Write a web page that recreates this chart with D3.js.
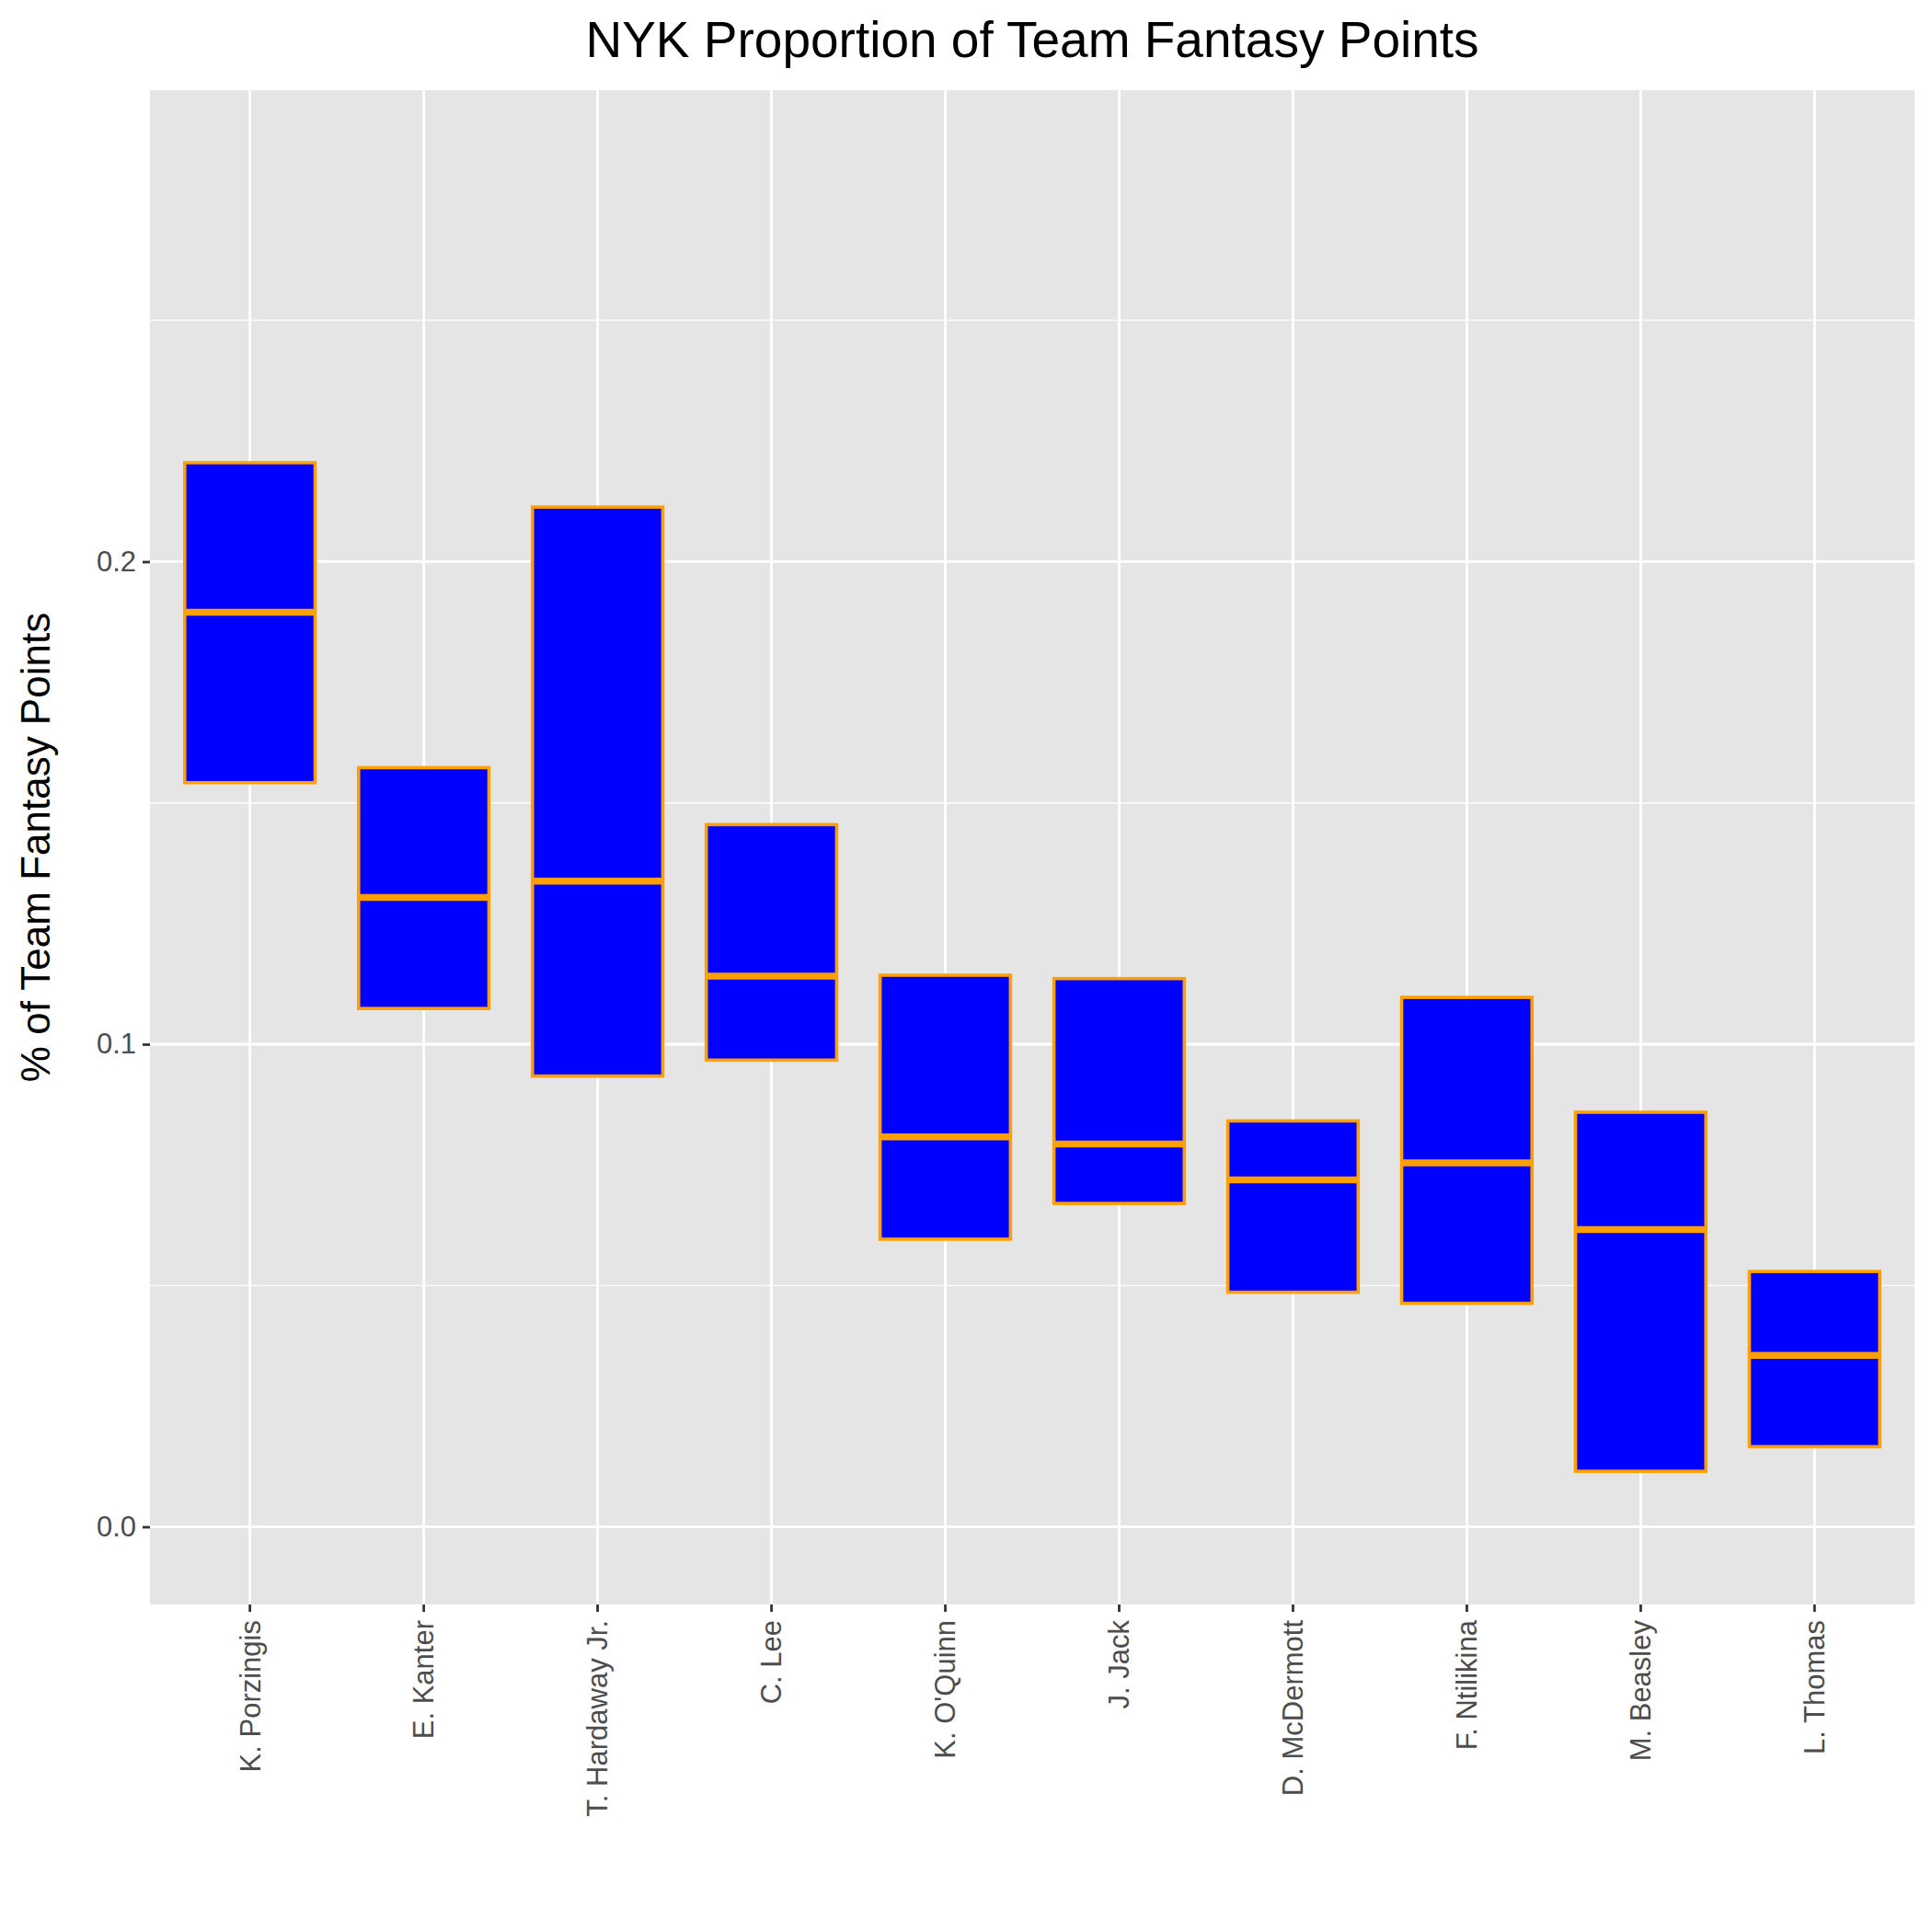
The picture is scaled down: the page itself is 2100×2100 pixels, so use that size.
<!DOCTYPE html>
<html>
<head>
<meta charset="utf-8">
<script src="https://d3js.org/d3.v7.min.js"></script>
<style>body{margin:0;background:#fff;}</style>
</head>
<body>
<div id="chart"></div>
<script>
// players in plotted order
var players = ["K. Porzingis", "E. Kanter", "T. Hardaway Jr.", "C. Lee", "K. O'Quinn",
               "J. Jack", "D. McDermott", "F. Ntilikina", "M. Beasley", "L. Thomas"];
var lower  = [0.1542, 0.1074, 0.0934, 0.0967, 0.0596, 0.0670, 0.0486, 0.0463, 0.0115, 0.0166];
var median = [0.1895, 0.1304, 0.1338, 0.1141, 0.0808, 0.0793, 0.0719, 0.0754, 0.0616, 0.0355];
var upper  = [0.2205, 0.1573, 0.2113, 0.1455, 0.1143, 0.1136, 0.0841, 0.1097, 0.0859, 0.0529];
var yTicks = [0.0, 0.1, 0.2];

var width = 2100, height = 2100;
var m = {left: 163, right: 19, top: 98, bottom: 356};

var svg = d3.select("#chart").append("svg")
    .attr("width", width).attr("height", height)
    .style("font-family", "Liberation Sans, Arial, sans-serif");

var x = d3.scaleBand().domain(players)
    .range([m.left, width - m.right]).paddingInner(0.25).paddingOuter(0.2);
var y = d3.scaleLinear().domain([-0.0161, 0.2977])
    .range([height - m.bottom, m.top]);

// panel background
svg.append("rect")
    .attr("x", m.left).attr("y", m.top)
    .attr("width", width - m.left - m.right).attr("height", height - m.top - m.bottom)
    .attr("fill", "#e5e5e5");

// minor grid
var minor = [0.05, 0.15, 0.25];
svg.selectAll(".minor").data(minor).enter().append("line")
    .attr("x1", m.left).attr("x2", width - m.right)
    .attr("y1", d => y(d)).attr("y2", d => y(d))
    .attr("stroke", "#fff").attr("stroke-width", 1.3);

// major grid
svg.selectAll(".hmajor").data(yTicks).enter().append("line")
    .attr("x1", m.left).attr("x2", width - m.right)
    .attr("y1", d => y(d)).attr("y2", d => y(d))
    .attr("stroke", "#fff").attr("stroke-width", 2.8);
svg.selectAll(".vmajor").data(players).enter().append("line")
    .attr("x1", d => x(d) + x.bandwidth() / 2).attr("x2", d => x(d) + x.bandwidth() / 2)
    .attr("y1", m.top).attr("y2", height - m.bottom)
    .attr("stroke", "#fff").attr("stroke-width", 2.8);

// boxes
var data = players.map((p, i) => ({p: p, lo: lower[i], med: median[i], hi: upper[i]}));
var g = svg.append("g");
g.selectAll("rect.box").data(data).enter().append("rect")
    .attr("x", d => x(d.p)).attr("width", x.bandwidth())
    .attr("y", d => y(d.hi)).attr("height", d => y(d.lo) - y(d.hi))
    .attr("fill", "#0000ff").attr("stroke", "#ff9f00").attr("stroke-width", 3.6);
g.selectAll("line.med").data(data).enter().append("line")
    .attr("x1", d => x(d.p)).attr("x2", d => x(d.p) + x.bandwidth())
    .attr("y1", d => y(d.med)).attr("y2", d => y(d.med))
    .attr("stroke", "#ff9f00").attr("stroke-width", 7.5);

// y axis
var ya = svg.append("g").attr("transform", "translate(" + m.left + ",0)")
    .call(d3.axisLeft(y).tickValues(yTicks).tickFormat(d3.format(".1f")).tickSize(8).tickPadding(7));
ya.select(".domain").remove();
ya.selectAll("line").attr("stroke", "#333").attr("stroke-width", 2.8);
ya.selectAll("text").attr("fill", "#4d4d4d").style("font-size", "31px");

// x axis
var xa = svg.append("g").attr("transform", "translate(0," + (height - m.bottom) + ")")
    .call(d3.axisBottom(x).tickSize(8).tickPadding(7));
xa.select(".domain").remove();
xa.selectAll("line").attr("stroke", "#333").attr("stroke-width", 2.8);
xa.selectAll("text").attr("fill", "#4d4d4d").style("font-size", "31px")
    .attr("text-anchor", "end").attr("dy", "0.35em")
    .attr("transform", "translate(0,17) rotate(-90)").attr("x", 0).attr("y", 0);

// titles
svg.append("text").attr("x", (m.left + width - m.right) / 2).attr("y", 62)
    .attr("text-anchor", "middle").style("font-size", "55px").text("NYK Proportion of Team Fantasy Points");
svg.append("text").attr("transform", "translate(54," + ((m.top + height - m.bottom) / 2) + ") rotate(-90)")
    .attr("text-anchor", "middle").style("font-size", "44px").text("% of Team Fantasy Points");
</script>
</body>
</html>
